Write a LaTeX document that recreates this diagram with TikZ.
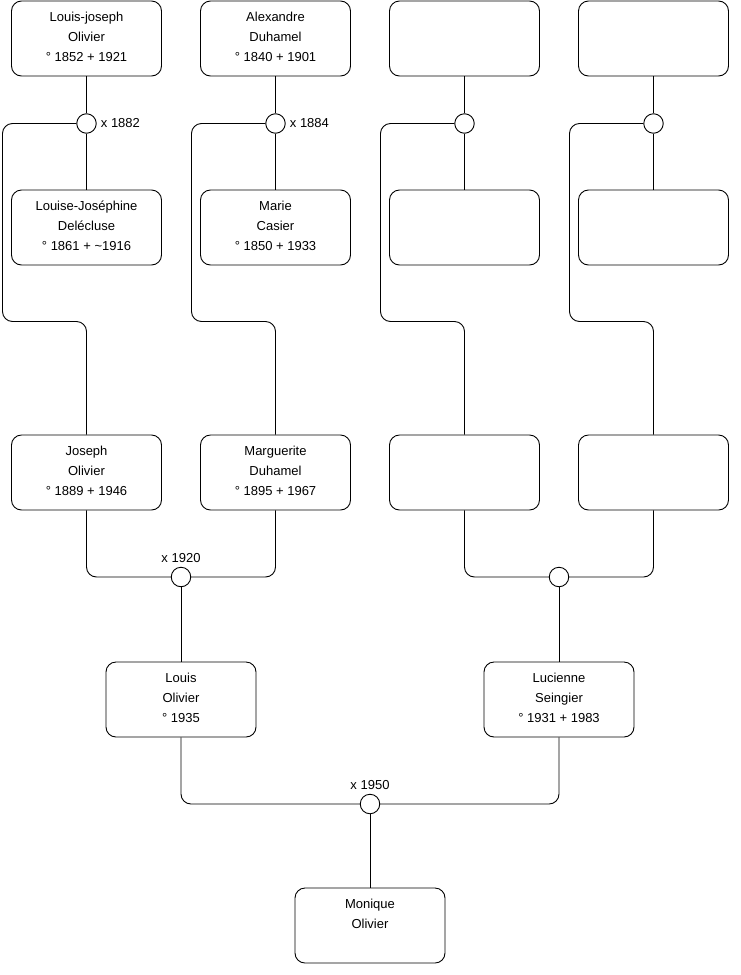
\documentclass[tikz,border=0pt]{standalone}
\usepackage{fontspec}
\setmainfont{Liberation Sans}
\usetikzlibrary{calc}
\newcommand{\ptext}[1]{\parbox[c][75pt][t]{150pt}{\centering\rule{0pt}{20.5pt}#1}}
\begin{document}
\begin{tikzpicture}[x=1pt,y=-1pt,
  person/.style={draw, line width=0.9pt, rounded corners=10pt, inner sep=0pt,
    minimum width=150pt, minimum height=75pt, font=\fontsize{13}{20}\selectfont},
  union/.style={draw, line width=0.9pt, circle, fill=white, minimum size=19.5pt, inner sep=0pt},
  ulabel/.style={inner sep=0pt, font=\fontsize{13}{15}\selectfont},
  link/.style={draw, line width=0.9pt, rounded corners=10pt}]
\useasboundingbox (0,0) rectangle (740,975);

% row 1
\node[person] (p1) at (86.5,38.5) {\ptext{Louis-joseph\\Olivier\\° 1852 + 1921}};
\node[person] (p2) at (275.5,38.5) {\ptext{Alexandre\\Duhamel\\° 1840 + 1901}};
\node[person] (p3) at (464.5,38.5) {\ptext{}};
\node[person] (p4) at (653.5,38.5) {\ptext{}};
% row 2
\node[person] (w1) at (86.5,227.5) {\ptext{Louise-Joséphine\\Delécluse\\° 1861 + \textasciitilde 1916}};
\node[person] (w2) at (275.5,227.5) {\ptext{Marie\\Casier\\° 1850 + 1933}};
\node[person] (w3) at (464.5,227.5) {\ptext{}};
\node[person] (w4) at (653.5,227.5) {\ptext{}};
% row 3
\node[person] (c1) at (86.5,472.5) {\ptext{Joseph\\Olivier\\° 1889 + 1946}};
\node[person] (c2) at (275.5,472.5) {\ptext{Marguerite\\Duhamel\\° 1895 + 1967}};
\node[person] (c3) at (464.5,472.5) {\ptext{}};
\node[person] (c4) at (653.5,472.5) {\ptext{}};
% row 4
\node[person] (l1) at (181,699.5) {\ptext{Louis\\Olivier\\° 1935}};
\node[person] (l2) at (559,699.5) {\ptext{Lucienne\\Seingier\\° 1931 + 1983}};
% row 5
\node[person] (mo) at (370,925.5) {\ptext{Monique\\Olivier}};

% unions
\node[union] (m1) at (86.5,123.5) {};
\node[union] (m2) at (275.5,123.5) {};
\node[union] (m3) at (464.5,123.5) {};
\node[union] (m4) at (653.5,123.5) {};
\node[union] (m5) at (181,577) {};
\node[union] (m6) at (559,577) {};
\node[union] (m7) at (370,804) {};

\node[ulabel, anchor=west] (t1) at ([xshift=4pt]m1.east) {x 1882};
\node[ulabel, anchor=west] (t2) at ([xshift=4pt]m2.east) {x 1884};
\node[ulabel, anchor=south] (t5) at ([yshift=3.5pt]m5.north) {x 1920};
\node[ulabel, anchor=south] (t7) at ([yshift=3.5pt]m7.north) {x 1950};

% couple lines
\foreach \i in {1,2,3,4}{
  \draw[link] (p\i.south) -- (m\i.north);
  \draw[link] (m\i.south) -- (w\i.north);
}
% child lines
\draw[link] (m1.west) -| (2.5,321.5) -| (c1.north);
\draw[link] (m2.west) -| (191.5,321.5) -| (c2.north);
\draw[link] (m3.west) -| (380.5,321.5) -| (c3.north);
\draw[link] (m4.west) -| (569.5,321.5) -| (c4.north);

\draw[link] (c1.south) |- (m5.west);
\draw[link] (c2.south) |- (m5.east);
\draw[link] (c3.south) |- (m6.west);
\draw[link] (c4.south) |- (m6.east);
\draw[link] (m5.south) -- (l1.north);
\draw[link] (m6.south) -- (l2.north);

\draw[link] (l1.south) |- (m7.west);
\draw[link] (l2.south) |- (m7.east);
\draw[link] (m7.south) -- (mo.north);
\end{tikzpicture}
\end{document}
